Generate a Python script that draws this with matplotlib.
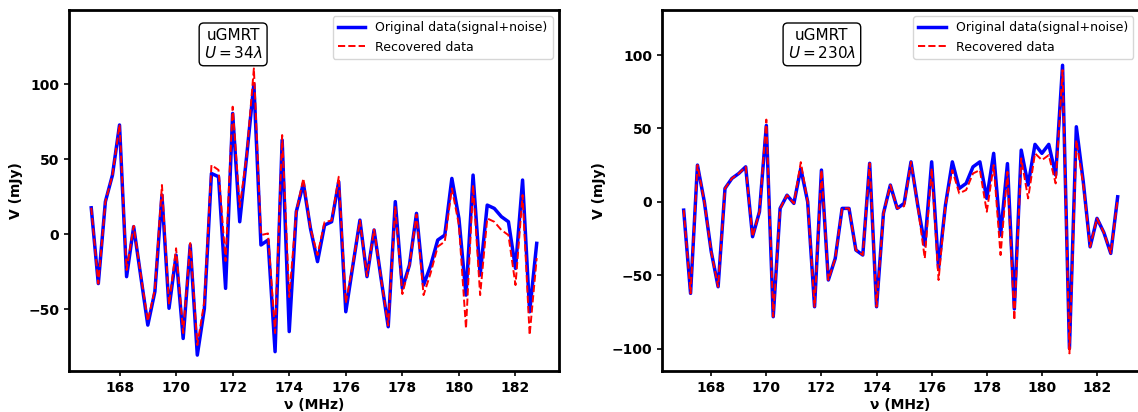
import numpy as np
import matplotlib
matplotlib.use('Agg')
import matplotlib.pyplot as plt

# frequency channels (MHz)
freq = 167 + 0.25 * np.arange(64)

# U = 34 lambda
orig_34 = [17.5, -33, 21.6, 39.3, 72.7, -28.4, 4.9, -28, -60.7, -38.4,
           26, -49.5, -14, -69.6, -7.3, -80.7, -49.6, 40.4, 38.2, -36.2,
           80.4, 8.2, 52.7, 100, -7.3, -4, -78.4, 62.7, -65, 14.9,
           33.8, 3.8, -18.4, 6, 8.2, 34.9, -51.8, -21, 9.3, -28.4,
           2.7, -30, -61.8, 21.6, -36.2, -20.7, 13.8, -34, -21, -4,
           -0.7, 37.1, 10.4, -40.7, 39.3, -27.3, 19.3, 17.1, 11.6, 8.2,
           -22.9, 36, -51.8, -6.2]
rec_34 = [17.5, -33, 21.6, 39.3, 73, -24, 5.5, -27, -58, -37,
          32.7, -47, -9.5, -66, -6, -74, -45, 46, 42.7, -18,
          84.9, 18, 53, 110.4, -0.7, 0.4, -66, 66, -42, 15,
          37.1, 4, -14, 8, 9, 38.2, -46, -20, 9, -28,
          3, -30, -61, 18, -40, -21, 13, -40.7, -26, -8.4,
          -5, 30.4, 6, -62.9, 32.7, -40.7, 10.4, 8.2, 2.7, -0.7,
          -34, 26, -67.3, -16]

# U = 230 lambda
orig_230 = [-5.7, -62.4, 25, 0, -34, -57.9, 9.1, 15.9, 19.3, 23.8,
            -23.8, -6.8, 52, -78.3, -4.5, 4.5, -1.1, 22.7, 0, -71.5,
            21.6, -53.3, -38.6, -4.5, -4.5, -32.9, -36.3, 26.2, -71.5, -7.9,
            11.4, -4.5, -1.1, 27.2, -3, -29.5, 27.2, -45.4, -2.3, 27.2,
            9.1, 12.5, 23.8, 27.2, 2.3, 33, -22.7, 26, -73, 35.2,
            11.4, 39.1, 33, 39.1, 18.2, 93, -99.9, 51.1, 14, -30.7,
            -11.3, -21, -35.2, 3.4]
rec_230 = [-5.7, -62.4, 25, 0, -34, -57.9, 9.1, 15.9, 19.3, 23.8,
           -23.8, -6.8, 56, -78.3, -4.5, 4.5, -1.1, 27, 0, -71.5,
           21.6, -53.3, -38.6, -4.5, -4.5, -32.9, -36.3, 26.2, -71.5, -7.9,
           11.4, -4.5, -3, 27.2, -4, -38.6, 22.7, -53.3, -2.3, 21.6,
           5.7, 8, 19.3, 21.6, -6.8, 25, -36.3, 20.4, -80.6, 29.6,
           2.3, 33, 28.4, 31.8, 12.5, 89.7, -103.3, 42, 12, -30.7,
           -11.3, -21, -35.2, 2]

panels = [(orig_34, rec_34, r'uGMRT' + '\n' + r'$U=34\lambda$', (-91.3, 149.3)),
          (orig_230, rec_230, r'uGMRT' + '\n' + r'$U=230\lambda$', (-115.3, 130.6))]

fig = plt.figure(figsize=(11.38, 4.12), dpi=100)
positions = [[0.0606, 0.0995, 0.4306, 0.876],
             [0.5817, 0.0995, 0.4195, 0.876]]

for pos, (orig, rec, label, ylim) in zip(positions, panels):
    ax = fig.add_axes(pos)
    ax.plot(freq, orig, color='blue', lw=2.5, label='Original data(signal+noise)')
    ax.plot(freq, rec, color='red', ls='--', lw=1.4, label='Recovered data')
    ax.set_xlim(166.2125, 183.5375)
    ax.set_ylim(*ylim)
    ax.set_xticks([168, 170, 172, 174, 176, 178, 180, 182])
    for sp in ax.spines.values():
        sp.set_linewidth(2)
    ax.tick_params(labelsize=10, width=1.2)
    for t in ax.get_xticklabels() + ax.get_yticklabels():
        t.set_fontweight('bold')
    ax.set_xlabel('ν (MHz)', fontsize=10, fontweight='bold', labelpad=2)
    ax.set_ylabel('V (mJy)', fontsize=10, fontweight='bold', labelpad=4)
    ax.text(0.335, 0.905, label, transform=ax.transAxes, ha='center', va='center',
            fontsize=11, bbox=dict(boxstyle='round', fc='white', ec='black'))
    ax.legend(loc='upper right', fontsize=9, handlelength=2.2)

fig.savefig('out.png', dpi=100)
